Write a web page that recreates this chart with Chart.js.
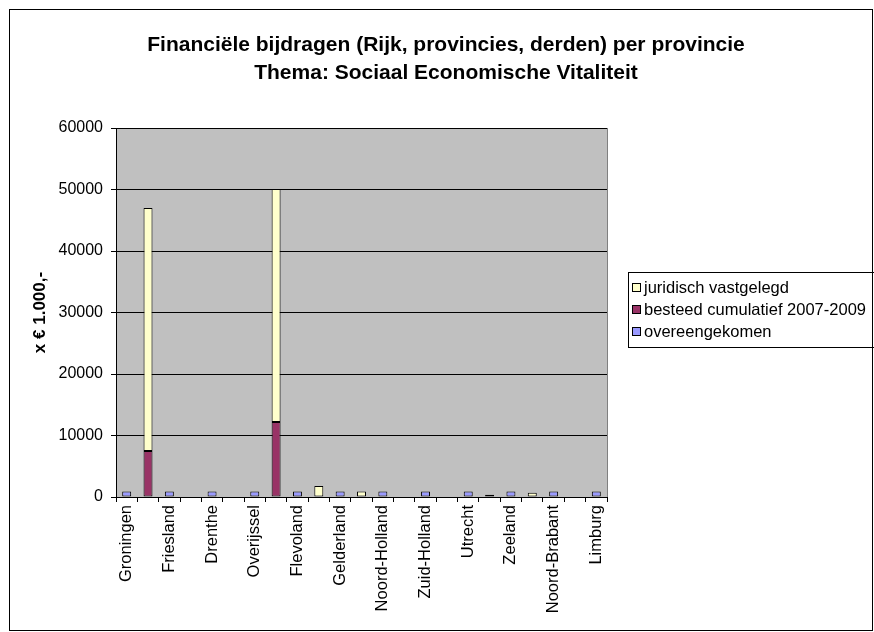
<!DOCTYPE html>
<html>
<head>
<meta charset="utf-8">
<script src="https://cdn.jsdelivr.net/npm/chart.js@4.4.0/dist/chart.umd.min.js"></script>
<style>
  html, body { margin: 0; padding: 0; background: #fff; }
  #wrap { position: relative; width: 874px; height: 632px; }
</style>
</head>
<body>
<div id="wrap"><canvas id="chart" width="874" height="632"></canvas></div>
<script>
// ==== DATA ====
var categories = ['Groningen', '', 'Friesland', '', 'Drenthe', '', 'Overijssel', '', 'Flevoland', '', 'Gelderland', '',
  'Noord-Holland', '', 'Zuid-Holland', '', 'Utrecht', '', 'Zeeland', '', 'Noord-Brabant', '', 'Limburg'];
var overeengekomen = [900, null, 900, null, 900, null, 900, null, 900, null, 900, null, 900, null, 900, null, 900, null, 900, null, 900, null, 900];
var besteed = [null, 7500, null, null, null, null, null, 12200, null, null, null, null, null, null, null, null, null, 350, null, null, null, null, null];
var juridisch = [null, 39500, null, null, null, null, null, 37900, null, 1800, null, 900, null, null, null, null, null, null, null, 700, null, null, null];
var yTicks = [0, 10000, 20000, 30000, 40000, 50000, 60000];
var titleLines = ['Financiële bijdragen (Rijk, provincies, derden) per provincie', 'Thema: Sociaal Economische Vitaliteit'];

var FONT = '"Liberation Sans", Arial, sans-serif';

// ==== PLUGINS ====
var plotBg = {
  id: 'plotBg',
  beforeDraw: function (c) {
    var a = c.chartArea, ctx = c.ctx;
    ctx.save();
    ctx.fillStyle = '#c0c0c0';
    ctx.fillRect(a.left, a.top, a.right - a.left, a.bottom - a.top);
    ctx.restore();
  },
  afterDraw: function (c) {
    var a = c.chartArea, ctx = c.ctx;
    ctx.save();
    // plot border right side
    ctx.strokeStyle = '#808080'; ctx.lineWidth = 1;
    ctx.beginPath();
    ctx.moveTo(Math.round(a.right) + 0.5, a.top); ctx.lineTo(Math.round(a.right) + 0.5, a.bottom);
    ctx.stroke();
    // title
    ctx.fillStyle = '#000';
    ctx.font = 'bold 21px ' + FONT;
    ctx.textAlign = 'center'; ctx.textBaseline = 'middle';
    ctx.fillText(titleLines[0], 446, 45);
    ctx.fillText(titleLines[1], 446, 73);
    // legend (reverse order, like Excel stacked)
    ctx.strokeStyle = '#000';
    ctx.strokeRect(628.5, 272.5, 260, 75);
    ctx.font = '16.5px ' + FONT;
    ctx.textAlign = 'left';
    var ds = c.data.datasets.slice().reverse();
    var rows = [288, 310, 332];
    ds.forEach(function (d, i) {
      ctx.fillStyle = d.backgroundColor;
      ctx.fillRect(632.5, rows[i] - 4.5, 8, 8);
      ctx.strokeRect(632.5, rows[i] - 4.5, 8, 8);
      ctx.fillStyle = '#000';
      ctx.fillText(d.label, 644, rows[i]);
    });
    // outer chart border
    ctx.strokeRect(9.5, 9.5, 863, 621);
    ctx.restore();
  }
};

function ds(label, data, color) {
  return { label: label, data: data, backgroundColor: color, borderColor: '#000', borderWidth: 1,
    borderSkipped: false, categoryPercentage: 1, barPercentage: 0.42 };
}

new Chart(document.getElementById('chart').getContext('2d'), {
  type: 'bar',
  data: {
    labels: categories,
    datasets: [
      ds('overeengekomen', overeengekomen, '#9999ff'),
      ds('besteed cumulatief 2007-2009', besteed, '#993366'),
      ds('juridisch vastgelegd', juridisch, '#ffffcc')
    ]
  },
  options: {
    responsive: false, animation: false,
    layout: { padding: { left: 26, right: 267, top: 128, bottom: 0 } },
    plugins: { legend: { display: false }, title: { display: false }, tooltip: { enabled: false } },
    scales: {
      x: {
        stacked: true,
        afterFit: function (s) { s.height = 135; },
        grid: { display: true, drawOnChartArea: false, drawTicks: true, tickLength: 5, color: '#000', offset: true },
        border: { display: true, color: '#000' },
        ticks: { autoSkip: false, maxRotation: 90, minRotation: 90, padding: 3, color: '#000', font: { family: FONT, size: 16.5 } }
      },
      y: {
        stacked: true, min: 0, max: 60000,
        afterFit: function (s) { s.width = 90; },
        afterBuildTicks: function (s) { s.ticks = yTicks.map(function (v) { return { value: v }; }); },
        grid: { color: '#000', tickLength: 5 },
        border: { display: true, color: '#000' },
        ticks: { padding: 8, color: '#000', font: { family: FONT, size: 16 }, callback: function (v) { return String(v); } },
        title: { display: true, text: 'x € 1.000,-', color: '#000', font: { family: FONT, size: 17, weight: 'bold' }, padding: { top: 4, bottom: 4 } }
      }
    }
  },
  plugins: [plotBg]
});
</script>
</body>
</html>
